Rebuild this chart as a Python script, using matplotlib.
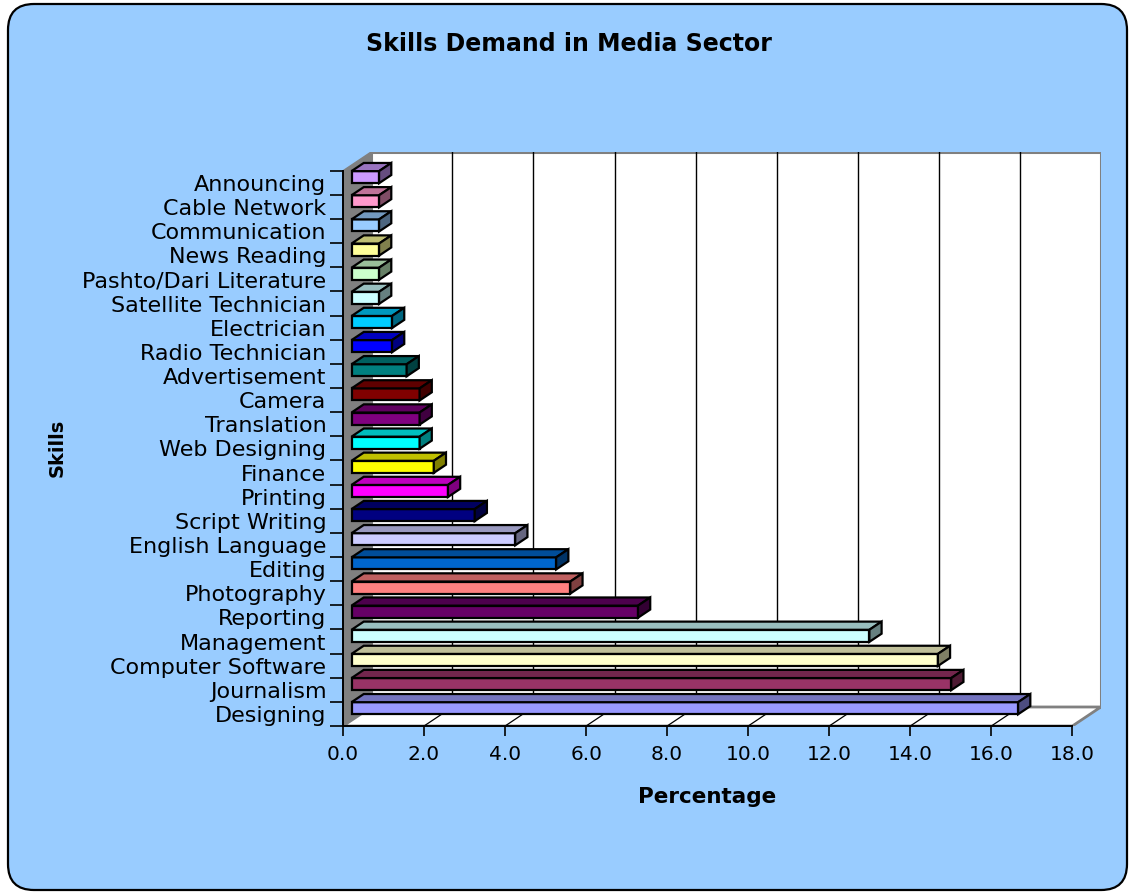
import matplotlib.pyplot as plt
from matplotlib.patches import Polygon, FancyBboxPatch
from matplotlib.colors import to_rgb

# skills from bottom (largest) to top
skills = ['Designing', 'Journalism', 'Computer Software', 'Management', 'Reporting',
          'Photography', 'Editing', 'English Language', 'Script Writing', 'Printing',
          'Finance', 'Web Designing', 'Translation', 'Camera', 'Advertisement',
          'Radio Technician', 'Electrician', 'Satellite Technician',
          'Pashto/Dari Literature', 'News Reading', 'Communication', 'Cable Network',
          'Announcing']
percent = [16.45, 14.8, 14.47, 12.78, 7.07, 5.4, 5.05, 4.04, 3.04, 2.38,
           2.03, 1.68, 1.68, 1.68, 1.36, 1.0, 1.0, 0.68, 0.68, 0.68, 0.68, 0.68, 0.68]
colors = ['#9999FF', '#993366', '#FFFFCC', '#CCFFFF', '#660066', '#FF8080', '#0066CC',
          '#CCCCFF', '#000080', '#FF00FF', '#FFFF00', '#00FFFF', '#800080', '#800000',
          '#008080', '#0000FF', '#00CCFF', '#CCFFFF', '#CCFFCC', '#FFFF99', '#99CCFF',
          '#FF99CC', '#CC99FF']
xticks = [0, 2, 4, 6, 8, 10, 12, 14, 16, 18]

W, H = 1129, 892
DX, DY = 0.701, 0.787      # depth of the 3d box in data units
D0, D1 = 0.30, 0.73        # front/back of the bars as fraction of depth


def shade(c, f):
    r, g, b = to_rgb(c)
    return (r * f, g * f, b * f)


fig = plt.figure(figsize=(W / 100, H / 100), dpi=100)
fig.patch.set_facecolor('white')

# rounded blue chart area
bg = fig.add_axes([0, 0, 1, 1])
bg.set_xlim(0, W)
bg.set_ylim(H, 0)
bg.axis('off')
bg.add_patch(FancyBboxPatch((8, 4), W - 10, H - 6,
                            boxstyle='round,pad=0,rounding_size=26',
                            fc='#99CCFF', ec='black', lw=1.6))

ax = fig.add_axes([343 / W, (H - 726) / H, 757.8 / W, 574.2 / H])
ax.set_facecolor('none')
ax.set_xlim(0, 18 + DX)
ax.set_ylim(0, 23 + DY)
nmax = len(skills)

# walls and floor
ax.add_patch(Polygon([(DX, DY), (18 + DX, DY), (18 + DX, nmax + DY), (DX, nmax + DY)],
                     fc='white', ec='#808080', lw=2.2, zorder=1))
ax.add_patch(Polygon([(0, 0), (DX, DY), (DX, nmax + DY), (0, nmax)],
                     fc='#808080', ec='#808080', lw=1, zorder=1))
ax.add_patch(Polygon([(0, 0), (18, 0), (18 + DX, DY), (DX, DY)],
                     fc='white', ec='#808080', lw=2, zorder=1))
for t in xticks[1:-1]:
    ax.plot([t + DX, t + DX], [DY, nmax + DY], color='black', lw=1.0, zorder=1.5)
    ax.plot([t, t + DX], [0, DY], color='black', lw=0.9, zorder=1.5)

# 3d bars
ddx, ddy = (D1 - D0) * DX, (D1 - D0) * DY
for k, (v, c) in enumerate(zip(percent, colors)):
    x0 = D0 * DX
    x1 = v + D0 * DX
    y0 = k + 0.25 + D0 * DY
    y1 = k + 0.75 + D0 * DY
    ax.add_patch(Polygon([(x0, y0), (x1, y0), (x1, y1), (x0, y1)],
                         fc=c, ec='black', lw=1.6, zorder=3))
    ax.add_patch(Polygon([(x0, y1), (x1, y1), (x1 + ddx, y1 + ddy), (x0 + ddx, y1 + ddy)],
                         fc=shade(c, 0.75), ec='black', lw=1.6, zorder=3))
    ax.add_patch(Polygon([(x1, y0), (x1 + ddx, y0 + ddy), (x1 + ddx, y1 + ddy), (x1, y1)],
                         fc=shade(c, 0.5), ec='black', lw=1.6, zorder=3))

for s in ['top', 'right']:
    ax.spines[s].set_visible(False)
ax.spines['left'].set_bounds(0, nmax)
ax.spines['bottom'].set_bounds(0, 18)
for s in ['left', 'bottom']:
    ax.spines[s].set_linewidth(1.4)
    ax.spines[s].set_zorder(2.5)

ax.set_xticks(xticks)
ax.set_xticklabels([f'{t:.1f}' for t in xticks], fontsize=14.5)
ax.tick_params(axis='x', direction='out', length=7.4, width=1.2, pad=6)

ax.set_yticks(range(nmax + 1))
ax.set_yticklabels([])
ax.tick_params(axis='y', which='major', direction='out', length=9.4, width=1.2)
ax.set_yticks([k + 0.5 for k in range(nmax)], minor=True)
ax.set_yticklabels(skills, minor=True, fontsize=16)
ax.tick_params(axis='y', which='minor', length=0, pad=12)

fig.text(569 / W, 1 - 44 / H, 'Skills Demand in Media Sector', ha='center', va='center',
         fontsize=17, fontweight='bold')
fig.text(707 / W, 1 - 797 / H, 'Percentage', ha='center', va='center',
         fontsize=15.5, fontweight='bold')
fig.text(57 / W, 1 - 448 / H, 'Skills', ha='center', va='center', rotation=90,
         fontsize=14, fontweight='bold')

fig.savefig('out.png', dpi=100)
